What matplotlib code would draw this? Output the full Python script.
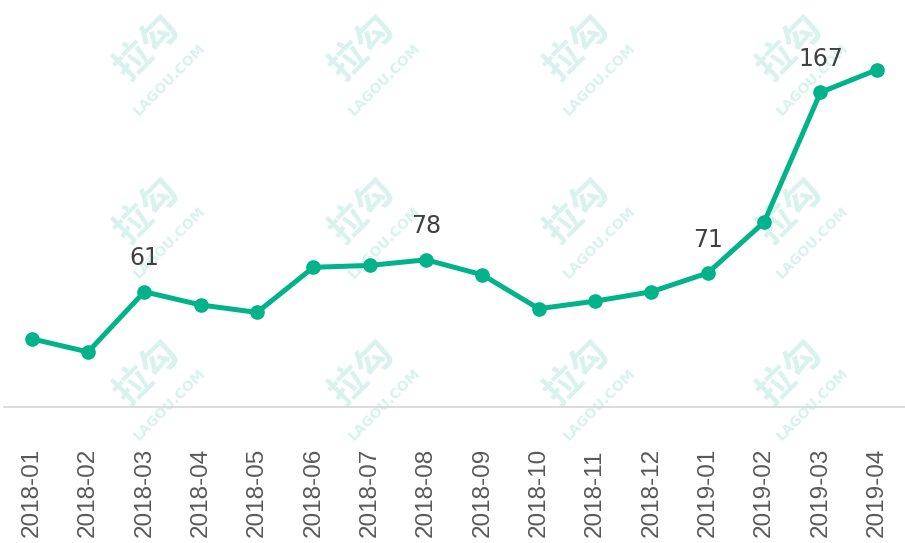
import matplotlib
matplotlib.use("Agg")
import matplotlib.pyplot as plt
import matplotlib.transforms as mtransforms

# ---- data ----
months = ["2018-01", "2018-02", "2018-03", "2018-04", "2018-05", "2018-06",
          "2018-07", "2018-08", "2018-09", "2018-10", "2018-11", "2018-12",
          "2019-01", "2019-02", "2019-03", "2019-04"]
values = [36, 29, 61, 54, 50, 74, 75, 78, 70, 52, 56, 61, 71, 98, 167, 179]
labeled_months = ["2018-03", "2018-08", "2019-01", "2019-03"]

# ---- style ----
LINE_COLOR = "#00B388"
WM_COLOR = "#d8f2ee"
W, H = 905, 543

fig = plt.figure(figsize=(W / 100, H / 100), dpi=100)
fig.patch.set_facecolor("white")

# watermarks (decorative, drawn behind everything)
wm_cols = [147, 362, 577, 790]
wm_rows = [47, 210, 372]
for cx in wm_cols:
    for cy in wm_rows:
        fig.text(cx / W, 1 - cy / H, "拉勾", rotation=45, ha="center", va="center",
                 fontsize=27, fontweight="bold", color=WM_COLOR,
                 family=["Noto Sans CJK SC", "DejaVu Sans"], zorder=-5)
        fig.text((cx + 23) / W, 1 - (cy + 32) / H, "LAGOU.COM", rotation=45,
                 ha="center", va="center", fontsize=10, fontweight="bold",
                 color=WM_COLOR, family="DejaVu Sans", zorder=-5)

left = 3.5 / W
bottom = (H - 406.5) / H
ax = fig.add_axes([left, bottom, 1 - left, 406.5 / H])
ax.set_facecolor("none")

x = list(range(len(months)))
ax.plot(x, values, color=LINE_COLOR, lw=3.6, marker="o", markersize=9.5,
        markerfacecolor=LINE_COLOR, markeredgecolor=LINE_COLOR, zorder=3,
        solid_capstyle="round")

ax.set_xlim(-0.5, len(months) - 0.5)
ax.set_ylim(0, 406.5 / 1.881)

for m in labeled_months:
    i = months.index(m)
    ax.annotate(str(values[i]), (i, values[i]), xytext=(0, 19),
                textcoords="offset points", ha="center", va="baseline",
                fontsize=17, color="#404040", family="DejaVu Sans")

for s in ["top", "left", "right"]:
    ax.spines[s].set_visible(False)
ax.spines["bottom"].set_color("#d9d9d9")
ax.spines["bottom"].set_linewidth(1.3)
ax.set_yticks([])
ax.set_xticks(x)
ax.set_xticklabels([])
ax.tick_params(axis="x", length=0)

trans = mtransforms.blended_transform_factory(ax.transData, fig.transFigure)
for i, m in enumerate(months):
    ax.text(i, 6 / H, m, transform=trans, rotation=90, ha="center", va="bottom",
            fontsize=17.5, color="#595959", family="Liberation Sans", clip_on=False)

fig.savefig("out.png", dpi=100, facecolor="white")
